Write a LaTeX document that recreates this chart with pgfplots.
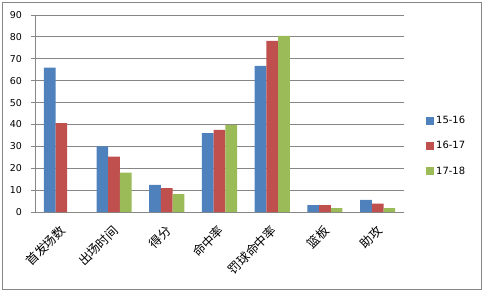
\documentclass[border=0pt]{standalone}
\usepackage{pgfplots}
\pgfplotsset{compat=1.18}
\usepackage{fontspec}
\setmainfont{DejaVu Sans}
\newfontfamily\cjk{Noto Sans CJK SC}
\definecolor{c1}{HTML}{4F81BD}
\definecolor{c2}{HTML}{C0504D}
\definecolor{c3}{HTML}{9BBB59}
\definecolor{gridc}{HTML}{868686}
\begin{document}
\begin{tikzpicture}[x=1bp,y=1bp]
\path[use as bounding box] (0,0) rectangle (483,291);
\draw[gridc, line width=0.8bp] (2,2) rectangle (481,289);
\begin{axis}[
  at={(35bp,79bp)}, anchor=south west,
  scale only axis, width=369bp, height=197bp,
  ybar=0pt, bar width=11.7bp,
  xmin=-0.5, xmax=6.5, ymin=0, ymax=90,
  ytick={0,10,...,90},
  xtick={0,...,6},
  xticklabels={首发场数,出场时间,得分,命中率,罚球命中率,篮板,助攻},
  minor xtick={-0.5,0.5,...,6.5},
  axis lines*=left,
  axis line style={gridc, -, line width=0.8bp},
  tick align=outside,
  major tick length=4bp, minor tick length=4bp,
  x tick style={draw=none},
  minor x tick style={gridc, line width=0.8bp},
  y tick style={gridc, line width=0.8bp},
  ymajorgrids,
  grid style={gridc, line width=0.8bp},
  /pgf/number format/assume math mode=true,
  yticklabel style={font=\fontsize{9.5}{11}\selectfont, inner sep=0pt, xshift=-9bp},
  xticklabel style={font=\cjk\fontsize{12.5}{14}\selectfont, xshift=2bp, yshift=-12bp, rotate=45, anchor=east, inner sep=0pt},
  legend style={draw=none, fill=none, at={(1.0596,0.335)}, anchor=west,
    font=\fontsize{10}{12}\selectfont, row sep=12.5bp, inner sep=0pt},
  legend cell align=left,
  legend image code/.code={\path[#1] (0bp,-4bp) rectangle (8bp,4bp);},
]
\addplot[fill=c1, draw=none] coordinates {(0,66) (1,30) (2,12.4) (3,36) (4,66.8) (5,3.2) (6,5.5)};
\addplot[fill=c2, draw=none] coordinates {(0,40.6) (1,25.3) (2,10.9) (3,37.5) (4,78.2) (5,3.2) (6,3.8)};
\addplot[fill=c3, draw=none] coordinates {(0,0) (1,18) (2,8.2) (3,39.8) (4,80.5) (5,1.8) (6,1.8)};
\legend{15-16,16-17,17-18}
\end{axis}
\end{tikzpicture}
\end{document}
